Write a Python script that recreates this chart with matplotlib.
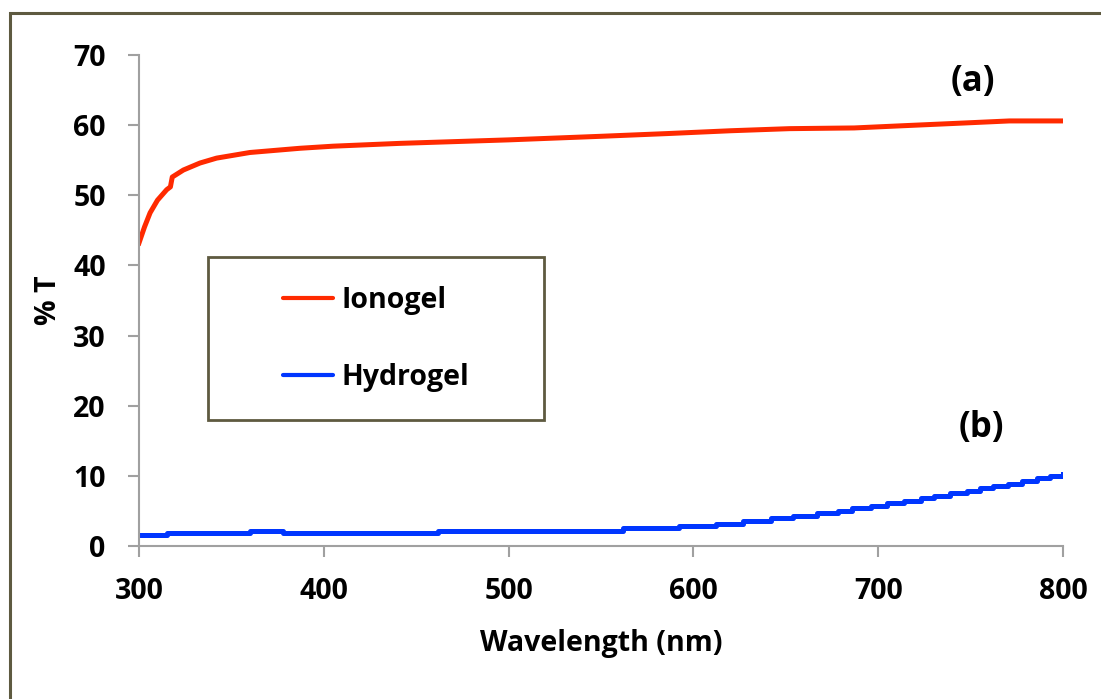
import matplotlib
matplotlib.use("Agg")
import matplotlib.pyplot as plt
from matplotlib.patches import Rectangle

# Ionogel transmittance
ion_wl = [300, 303, 306, 310, 315, 317, 318, 324, 333, 342, 351, 360, 369, 387,
          405, 441, 500, 549, 586, 620, 652, 687, 712, 746, 771, 800]
ion_T = [43.2, 45.5, 47.5, 49.3, 50.8, 51.2, 52.6, 53.6, 54.6, 55.3, 55.7, 56.1, 56.3, 56.7,
         57.0, 57.4, 57.9, 58.4, 58.8, 59.2, 59.5, 59.6, 59.9, 60.3, 60.6, 60.6]

# Hydrogel transmittance (stepped data)
hyd_wl = [300, 315, 360, 378, 462, 562, 592, 612, 627, 642, 654, 667, 678, 686,
          696, 705, 714, 723, 730, 739, 748, 755, 762, 770, 778, 786, 793, 800]
hyd_T = [1.5, 1.8, 2.2, 1.8, 2.2, 2.6, 2.9, 3.2, 3.6, 3.95, 4.3, 4.7, 5.0, 5.4,
         5.7, 6.1, 6.4, 6.8, 7.1, 7.5, 7.9, 8.2, 8.55, 8.9, 9.3, 9.65, 10.0, 10.3]

x_ticks = [300, 400, 500, 600, 700, 800]
y_ticks = [0, 10, 20, 30, 40, 50, 60, 70]

plt.rcParams['font.family'] = ['Open Sans', 'DejaVu Sans']
plt.rcParams['font.weight'] = 'bold'
fs = 20.5

fig = plt.figure(figsize=(11.01, 6.99), dpi=100)
ax = fig.add_axes([139/1101, 1-546/699, 924/1101, 491/699])

red = '#ff2a00'
blue = '#0036ff'
gray = '#a0a0a0'
olive = '#5e5a40'

ax.plot(ion_wl, ion_T, color=red, lw=3.6, label='Ionogel', solid_joinstyle='round')
ax.plot(hyd_wl, hyd_T, color=blue, lw=3.6, label='Hydrogel', drawstyle='steps-post')

ax.set_xlim(300, 800)
ax.set_ylim(0, 70)
ax.set_xticks(x_ticks)
ax.set_yticks(y_ticks)
for s in ['top', 'right']:
    ax.spines[s].set_visible(False)
for s in ['left', 'bottom']:
    ax.spines[s].set_color(gray)
    ax.spines[s].set_linewidth(1.5)
ax.tick_params(direction='out', length=8, width=1.5, color=gray, labelsize=fs)
ax.tick_params(axis='y', pad=16)
ax.tick_params(axis='x', pad=14)
for lab in ax.get_xticklabels() + ax.get_yticklabels():
    lab.set_fontweight('bold')

ax.set_xlabel('Wavelength (nm)', fontsize=fs, fontweight='bold', labelpad=17)
ax.set_ylabel('% T', fontsize=fs, fontweight='bold', labelpad=7)

ax.text(751, 66.2, '(a)', fontsize=25, fontweight='bold', ha='center', va='center')
ax.text(755.6, 16.8, '(b)', fontsize=25, fontweight='bold', ha='center', va='center')

# legend frame drawn separately
ax.add_patch(Rectangle(((208-139)/924, (546-420)/491), (544-208)/924, (420-257)/491,
                       transform=ax.transAxes, fill=False, edgecolor=olive, lw=2, zorder=5))
leg = ax.legend(loc='center left', bbox_to_anchor=((283-139)/924, (546-339)/491),
                frameon=False, fontsize=fs, handlelength=1.75, handletextpad=0.3,
                labelspacing=1.7, borderpad=0, borderaxespad=0)
for line in leg.get_lines():
    line.set_linewidth(3)
    line.set_solid_capstyle('round')
for t in leg.get_texts():
    t.set_fontweight('bold')

# outer frame
fig.patches.append(Rectangle((10/1101, -0.1), 1.2, 1-13/699+0.1, transform=fig.transFigure,
                             fill=False, edgecolor=olive, lw=2.2, clip_on=False))

fig.savefig('out.png', dpi=100)
